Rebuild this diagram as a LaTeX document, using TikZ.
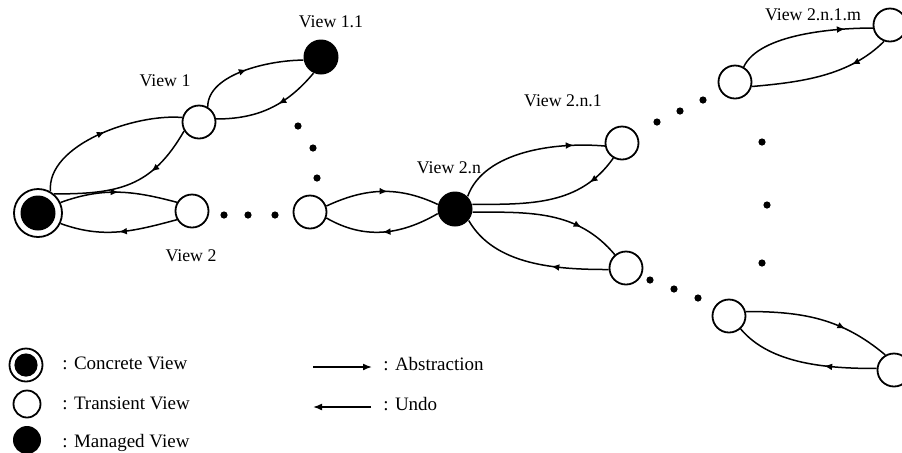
\documentclass[tikz,border=0pt]{standalone}
\usepackage{fontspec}
\setmainfont{Liberation Serif}
\usetikzlibrary{arrows.meta}
\usetikzlibrary{decorations.markings}
\tikzset{trans/.style = {draw, circle, line width=0.9pt, minimum size=16.5pt, inner sep=0pt}}
\tikzset{managed/.style = {circle, fill=black, minimum size=17.5pt, inner sep=0pt}}
\tikzset{concrete/.style 2 args = {draw, circle, line width=0.9pt, minimum size=#1, inner sep=0pt,
  path picture={\fill[black] (path picture bounding box.center) circle (#2);}}}
\tikzset{lbl/.style = {font=\fontsize{8.9}{10}\selectfont}}
\tikzset{legend/.style = {anchor=west, inner sep=0pt, font=\fontsize{9.5}{11}\selectfont}}
\tikzset{looparc/.style = {line width=0.75pt, postaction={decorate},
  decoration={markings, mark=at position #1 with {\arrow{Latex[length=4pt, width=3.4pt]}}}}}
\tikzset{looparc/.default = 0.5}
\tikzset{legarr/.style = {line width=0.8pt, -{Latex[length=4.5pt, width=3.5pt]}}}

\begin{document}
\begin{tikzpicture}[x=0.5pt, y=-0.5pt]
\useasboundingbox (0,0) rectangle (902,452);

% views
\node[concrete={24pt}{8.75pt}] (c0) at (38,213) {};
\node[trans] (v1) at (199,122) {};
\node[managed] (v11) at (321,57) {};
\node[trans] (v2) at (192,211) {};
\node[trans] (v2a) at (310,212) {};
\node[managed] (v2n) at (455,209) {};
\node[trans] (v2n1) at (622,143) {};
\node[trans] (v2n2) at (626,268) {};
\node[trans] (v2n1a) at (735,82) {};
\node[trans] (v2n1m) at (890,25) {};
\node[trans] (v2n2a) at (729,316) {};
\node[trans] (v2n2b) at (894,370) {};

\node[lbl] (l1) at (165,81) {View 1};
\node[lbl] (l11) at (331,22) {View 1.1};
\node[lbl] (l2) at (191,256) {View 2};
\node[lbl] (l2n) at (449,168) {View 2.n};
\node[lbl] (l2n1) at (563,101) {View 2.n.1};
\node[lbl] (l2n1m) at (813,15) {View 2.n.1.m};

% abstraction / undo loops
\draw[looparc=0.52] (c0.60) to[out=95, in=175, looseness=0.8] (v1.165);
\draw[looparc=0.34] (v1.211) to[out=240, in=0, looseness=1.15] (c0.50);
\draw[looparc=0.5] (v1.60) to[out=90, in=180, looseness=0.8] (v11.190);
\draw[looparc=0.42] (v11.245) to[out=230, in=0] (v1.10);
\draw[looparc] (c0.25) to[out=20, in=165] (v2.150);
\draw[looparc] (v2.210) to[out=195, in=-20] (c0.-25);
\draw[looparc=0.55] (v2a.20) to[out=25, in=155] (v2n.165);
\draw[looparc] (v2n.195) to[out=210, in=-30] (v2a.-20);
\draw[looparc=0.8] (v2n.45) to[out=70, in=175, looseness=0.85] (v2n1.190);
\draw[looparc=0.22] (v2n1.240) to[out=235, in=0] (v2n.15);
\draw[looparc=0.72] (v2n.-10) to[out=0, in=130] (v2n2.130);
\draw[looparc=0.37] (v2n2.185) to[out=180, in=-60, looseness=0.9] (v2n.-40);
\draw[looparc=0.8] (v2n1a.60) to[out=65, in=180, looseness=0.7] (v2n1m.190);
\draw[looparc=0.28] (v2n1m.250) to[out=225, in=5, looseness=0.9] (v2n1a.-15);
\draw[looparc=0.68] (v2n2a.15) to[out=0, in=140] (v2n2b.120);
\draw[looparc=0.36] (v2n2b.175) to[out=180, in=-50, looseness=0.85] (v2n2a.-48);

% dots
\foreach \x/\y in {224/215, 248/215, 275/215, 298/126, 313/148, 317/178,
  657/122, 680/111, 703/100, 762/142, 767/205, 762/263, 650/280, 674/289, 698/298}
  \fill (\x,\y) circle (1.8pt);

% legend
\node[concrete={16.5pt}{5.8pt}] (kc) at (26,365) {};
\node[trans, minimum size=13.5pt] (kt) at (27,404) {};
\node[managed, minimum size=14pt] (km) at (27,440) {};
\node[legend] (kct) at (62,363) {: Concrete View};
\node[legend] (ktt) at (62,403) {: Transient View};
\node[legend] (kmt) at (62,443) {: Managed View};

\coordinate (abs0) at (313,367);
\coordinate (abs1) at (372,367);
\coordinate (und0) at (371,407);
\coordinate (und1) at (313,407);
\draw[legarr] (abs0) -- (abs1);
\draw[legarr] (und0) -- (und1);
\node[legend] (kat) at (383,364) {: Abstraction};
\node[legend] (kut) at (383,404) {: Undo};

\end{tikzpicture}
\end{document}
